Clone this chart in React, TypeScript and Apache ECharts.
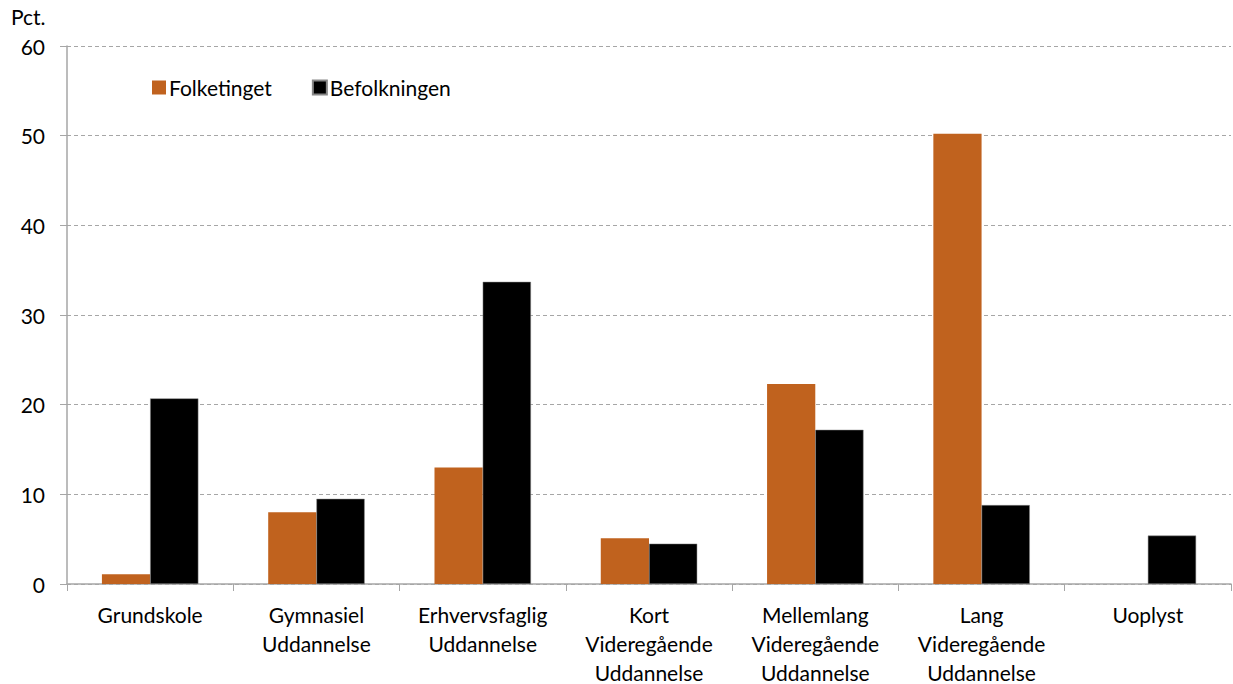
import React, { useEffect, useRef } from "react";
import * as echarts from "echarts";

const categories = [
  "Grundskole",
  "Gymnasiel\nUddannelse",
  "Erhvervsfaglig\nUddannelse",
  "Kort\nVideregående\nUddannelse",
  "Mellemlang\nVideregående\nUddannelse",
  "Lang\nVideregående\nUddannelse",
  "Uoplyst",
];
const folketinget = [1.1, 8.0, 13.0, 5.1, 22.3, 50.2, 0];
const befolkningen = [20.7, 9.5, 33.7, 4.5, 17.2, 8.8, 5.4];
const yTicks = { min: 0, max: 60, interval: 10 };

const FONT = "Lato, 'Open Sans', sans-serif";
const FS = 21;

export default function App() {
  const ref = useRef<HTMLDivElement>(null);
  useEffect(() => {
    const chart = echarts.init(ref.current!, null, { renderer: "svg" });
    chart.setOption({
      animation: false,
      textStyle: { fontFamily: FONT },
      legend: {
        left: 147,
        top: 72,
        itemWidth: 14,
        itemHeight: 14,
        itemGap: 40,
        icon: "rect",
        textStyle: { fontSize: FS, color: "#000", fontFamily: FONT, padding: [0, 0, 0, -2] },
        data: ["Folketinget", "Befolkningen"],
      },
      graphic: [
        {
          type: "text",
          left: 11,
          top: 6,
          style: { text: "Pct.", fontSize: FS, fill: "#000", fontFamily: FONT },
        },
      ],
      grid: { left: 67, right: 2, top: 46, bottom: 100, outerBoundsMode: "none", containLabel: false },
      xAxis: {
        type: "category",
        data: categories,
        axisLine: { lineStyle: { color: "#a6a6a6", width: 1.5 } },
        axisTick: { show: true, length: 7, lineStyle: { color: "#a6a6a6" } },
        axisLabel: {
          color: "#000",
          fontSize: FS,
          lineHeight: 29,
          margin: 16,
          interval: 0,
          fontFamily: FONT,
        },
      },
      yAxis: {
        type: "value",
        min: yTicks.min,
        max: yTicks.max,
        interval: yTicks.interval,
        axisLine: { show: true, lineStyle: { color: "#a6a6a6", width: 1.5 } },
        axisTick: { show: true, length: 7, lineStyle: { color: "#a6a6a6" } },
        axisLabel: { color: "#000", fontSize: FS, margin: 22, fontFamily: FONT },
        splitLine: { lineStyle: { color: "#a6a6a6", type: [4, 3], width: 1 } },
      },
      series: [
        {
          name: "Folketinget",
          type: "bar",
          data: folketinget,
          barGap: "0%",
          barCategoryGap: "42%",
          itemStyle: { color: "#c0621e" },
        },
        {
          name: "Befolkningen",
          type: "bar",
          data: befolkningen,
          barGap: "0%",
          barCategoryGap: "42%",
          itemStyle: { color: "#000000", borderColor: "#888", borderWidth: 0.5 },
        },
      ],
    });
    return () => chart.dispose();
  }, []);
  return (
    <div
      ref={ref}
      style={{ position: "absolute", left: 0, top: 0, width: 1233, height: 684 }}
    />
  );
}
